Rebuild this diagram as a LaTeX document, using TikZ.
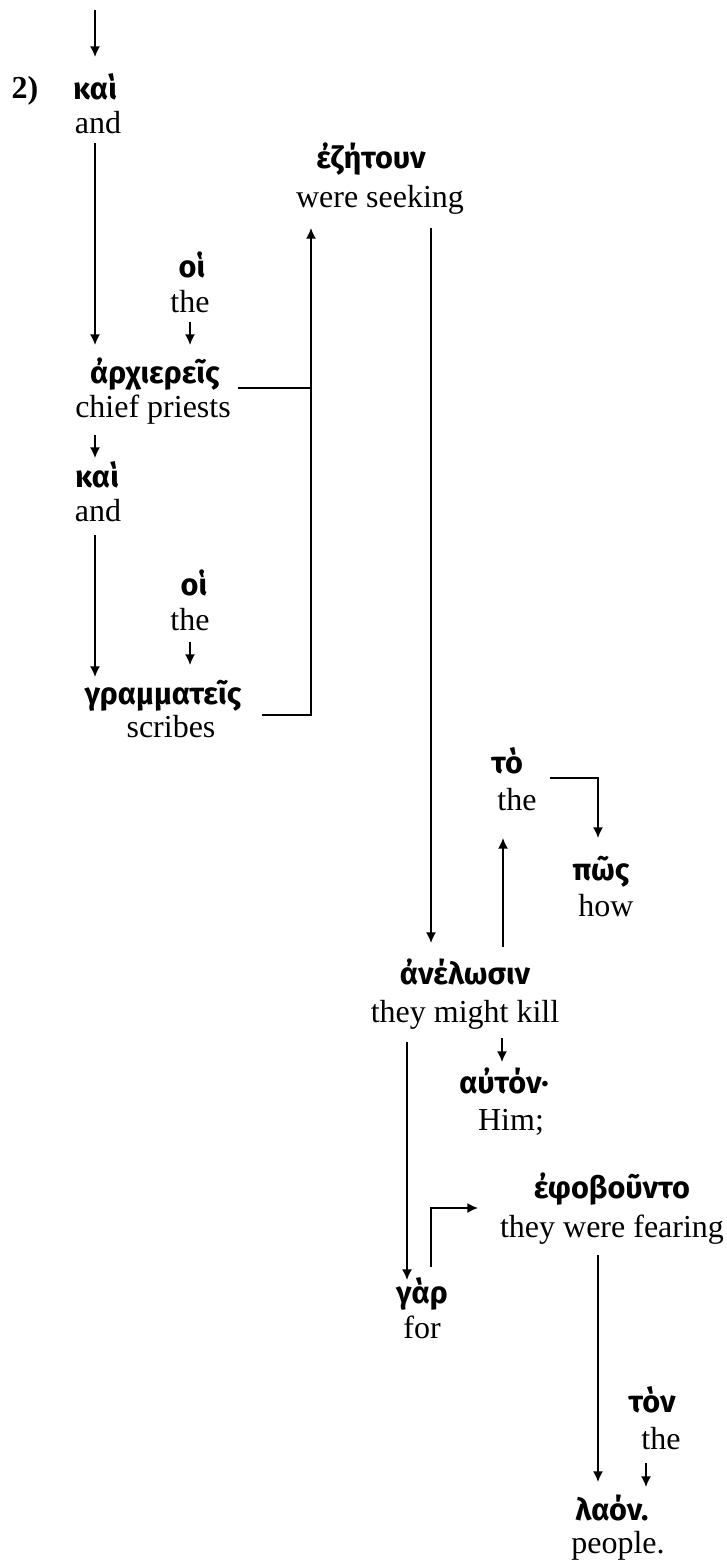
\documentclass[tikz,border=0pt]{standalone}
\usepackage{fontspec}
\setmainfont{Liberation Serif}
\newfontfamily\gkfont{Fira Sans}
\usetikzlibrary{arrows.meta}
\tikzset{
  gk/.style={anchor=base, inner sep=0pt, font=\gkfont\bfseries\fontsize{23}{27}\selectfont},
  en/.style={anchor=base, inner sep=0pt, font=\fontsize{24}{28}\selectfont},
  conn/.style={line width=1.2pt},
  arr/.style={line width=1.2pt, -{Latex[length=8pt,width=7.5pt]}}
}
\begin{document}
\begin{tikzpicture}[x=0.75pt,y=-0.75pt]
\useasboundingbox (0,0) rectangle (727,1564);
% nodes
\node[en, font=\bfseries\fontsize{24}{28}\selectfont] (num) at (25,98) {2)};
\node[gk] (kai1) at (95,99) {καὶ};
\node[en] (and1) at (98,133) {and};
\node[gk] (oi1) at (192,277) {οἱ};
\node[en] (the1) at (190,312) {the};
\node[gk] (arch) at (155,383) {ἀρχιερεῖς};
\node[en] (chief) at (153,417) {chief priests};
\node[gk] (kai2) at (97,487) {καὶ};
\node[en] (and2) at (98,521) {and};
\node[gk] (oi2) at (194,595) {οἱ};
\node[en] (the2) at (190,630) {the};
\node[gk] (gram) at (163,704) {γραμματεῖς};
\node[en] (scribes) at (171,737) {scribes};
\node[gk] (ezet) at (371,168) {ἐζήτουν};
\node[en] (seek) at (380,207) {were seeking};
\node[gk] (to) at (507,773) {τὸ};
\node[en] (the3) at (517,810) {the};
\node[gk] (pos) at (601,880) {πῶς};
\node[en] (how) at (606,916) {how};
\node[gk] (anel) at (465,984) {ἀνέλωσιν};
\node[en] (kill) at (465,1022) {they might kill};
\node[gk] (auton) at (504,1093) {αὐτόν·};
\node[en] (him) at (511,1130) {Him;};
\node[gk] (efob) at (612,1198) {ἐφοβοῦντο};
\node[en] (fear) at (612,1237) {they were fearing};
\node[gk] (gar) at (422,1303) {γὰρ};
\node[en] (for) at (422,1338) {for};
\node[gk] (ton) at (652,1412) {τὸν};
\node[en] (the4) at (661,1449) {the};
\node[gk] (laon) at (612,1520) {λαόν.};
\node[en] (people) at (618,1553) {people.};
% connector end points
\coordinate (c0) at (95,10);
\coordinate (c0e) at (95,57);
\coordinate (c1) at (95,143);
\coordinate (c1e) at (95,345);
\coordinate (c2) at (190,322);
\coordinate (c2e) at (190,345);
\coordinate (c3) at (238,388);
\coordinate (c4) at (262,715);
\coordinate (c4e) at (311,228);
\coordinate (c5) at (95,435);
\coordinate (c5e) at (95,458);
\coordinate (c6) at (95,535);
\coordinate (c6e) at (95,677);
\coordinate (c7) at (190,642);
\coordinate (c7e) at (190,665);
\coordinate (c8) at (431,228);
\coordinate (c8e) at (431,943);
\coordinate (c9) at (503,947);
\coordinate (c9e) at (503,838);
\coordinate (c10) at (550,778);
\coordinate (c10e) at (598,838);
\coordinate (c11) at (502,1038);
\coordinate (c11e) at (502,1062);
\coordinate (c12) at (407,1042);
\coordinate (c12e) at (407,1280);
\coordinate (c13) at (431,1267);
\coordinate (c13e) at (478,1208);
\coordinate (c14) at (598,1255);
\coordinate (c14e) at (598,1482);
\coordinate (c15) at (646,1463);
\coordinate (c15e) at (646,1487);
% connectors
\draw[arr] (c0) -- (c0e);
\draw[arr] (c1) -- (c1e);
\draw[arr] (c2) -- (c2e);
\draw[conn] (c3) -- (c3 -| c4e);
\draw[arr] (c4) -| (c4e);
\draw[arr] (c5) -- (c5e);
\draw[arr] (c6) -- (c6e);
\draw[arr] (c7) -- (c7e);
\draw[arr] (c8) -- (c8e);
\draw[arr] (c9) -- (c9e);
\draw[arr] (c10) -| (c10e);
\draw[arr] (c11) -- (c11e);
\draw[arr] (c12) -- (c12e);
\draw[arr] (c13) |- (c13e);
\draw[arr] (c14) -- (c14e);
\draw[arr] (c15) -- (c15e);
\end{tikzpicture}
\end{document}
